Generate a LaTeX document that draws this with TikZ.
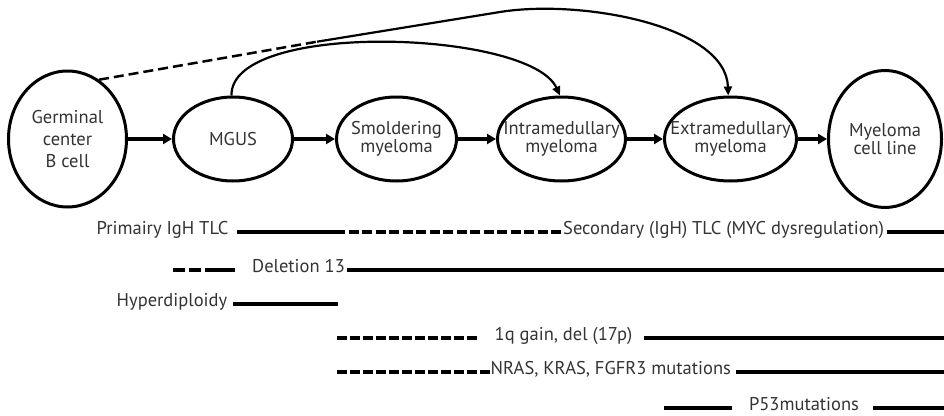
\documentclass[tikz,border=0pt]{standalone}
\usepackage{fontspec}
\setmainfont{PT Sans}
\usetikzlibrary{arrows.meta,shapes.geometric}
\definecolor{txt}{gray}{0.2}
\begin{document}
\begin{tikzpicture}[x=1pt,y=-1pt,
  stage/.style={ellipse,draw=black,line width=3pt,inner sep=-30pt,align=center,text=txt,
    font=\fontsize{18.5}{17.5}\selectfont},
  lbl/.style={inner sep=0pt,text=txt,anchor=mid,font=\fontsize{18.5}{20}\selectfont},
  prog/.style={line width=3.5pt,-{Triangle[length=9pt,width=10pt]}},
  jump/.style={line width=2.2pt,-{Triangle[length=9pt,width=8pt]}},
  bar/.style={line width=3.5pt},
  dbar/.style={line width=3.5pt,dash pattern=on 10pt off 3pt},
  ddash/.style={line width=2.5pt,dash pattern=on 10pt off 5pt},
]
\useasboundingbox (0,0) rectangle (944,415);
% stages
\node[stage,minimum width=118pt,minimum height=136pt,font=\fontsize{18.5}{22}\selectfont] (gc) at (67.5,139) {Germinal\\center\\B cell};
\node[stage,minimum width=119pt,minimum height=84pt] (mgus) at (233,139) {MGUS};
\node[stage,minimum width=120pt,minimum height=84pt] (smol) at (396.5,139) {Smoldering\\myeloma};
\node[stage,minimum width=128pt,minimum height=84pt] (intra) at (561.5,139) {Intramedullary\\myeloma};
\node[stage,minimum width=132pt,minimum height=84pt] (extra) at (730.5,139) {Extramedullary\\myeloma};
\node[stage,minimum width=113pt,minimum height=137pt] (line) at (885,139) {Myeloma\\cell line};
% progression arrows
\draw[prog] (gc) -- (mgus);
\draw[prog] (mgus) -- (smol);
\draw[prog] (smol) -- (intra);
\draw[prog] (intra) -- (extra);
\draw[prog] (extra) -- (line);
% jumps
\coordinate (d1) at (317,41.7);
\coordinate (d2) at (500,12);
\draw[ddash] (gc.62) -- (d1);
\draw[jump] (d1) -- (d2) .. controls (580,-1) and (726,25) .. (extra.93);
\draw[jump] (mgus.92) .. controls (230,20) and (530,30) .. (intra.92);
% row 1
\node[lbl] (pri) at (162.5,232) {Primairy IgH TLC};
\node[lbl,anchor=mid west] (sec) at (563,232) {Secondary (IgH) TLC (MYC dysregulation)};
\coordinate (r1a) at (335,232);
\coordinate (r1e) at (944,232);
\draw[bar] ([xshift=8pt]pri.mid east) -- (r1a);
\draw[dbar,dash pattern=on 10pt off 3.5pt] (r1a) -- ([xshift=-2pt]sec.mid west);
\draw[bar] ([xshift=3pt]sec.mid east) -- (r1e);
% row 2
\node[lbl] (del) at (298.5,270) {Deletion 13};
\coordinate (r2a) at (173,270);
\coordinate (r2b) at (200.5,270);
\coordinate (r2c) at (205,270);
\coordinate (r2e) at (944,270);
\draw[line width=3.5pt,dash pattern=on 11.5pt off 4.5pt] (r2a) -- (r2b);
\draw[bar] (r2c) -- ([xshift=-17pt]del.mid west);
\draw[bar] ([xshift=2pt]del.mid east) -- (r2e);
% row 3
\node[lbl] (hyp) at (172,304) {Hyperdiploidy};
\coordinate (r3e) at (338,304);
\draw[bar] ([xshift=6pt]hyp.mid east) -- (r3e);
% row 4
\node[lbl] (gain) at (563.5,338) {1q gain, del (17p)};
\coordinate (r4a) at (337,338);
\coordinate (r4b) at (477,338);
\coordinate (r4e) at (944,338);
\draw[dbar] (r4a) -- (r4b);
\draw[bar] ([xshift=12pt]gain.mid east) -- (r4e);
% row 5
\node[lbl,anchor=mid west] (ras) at (490.5,372) {NRAS, KRAS, FGFR3 mutations};
\coordinate (r5a) at (337,372);
\coordinate (r5e) at (944,372);
\draw[dbar] (r5a) -- ([xshift=-0.5pt]ras.mid west);
\draw[bar] ([xshift=5pt]ras.mid east) -- (r5e);
% row 6
\node[lbl] (p53) at (804,408) {P53mutations};
\coordinate (r6a) at (664,408);
\coordinate (r6e) at (944,408);
\draw[bar] (r6a) -- ([xshift=-17pt]p53.mid west);
\draw[bar] ([xshift=14pt]p53.mid east) -- (r6e);
\end{tikzpicture}
\end{document}
